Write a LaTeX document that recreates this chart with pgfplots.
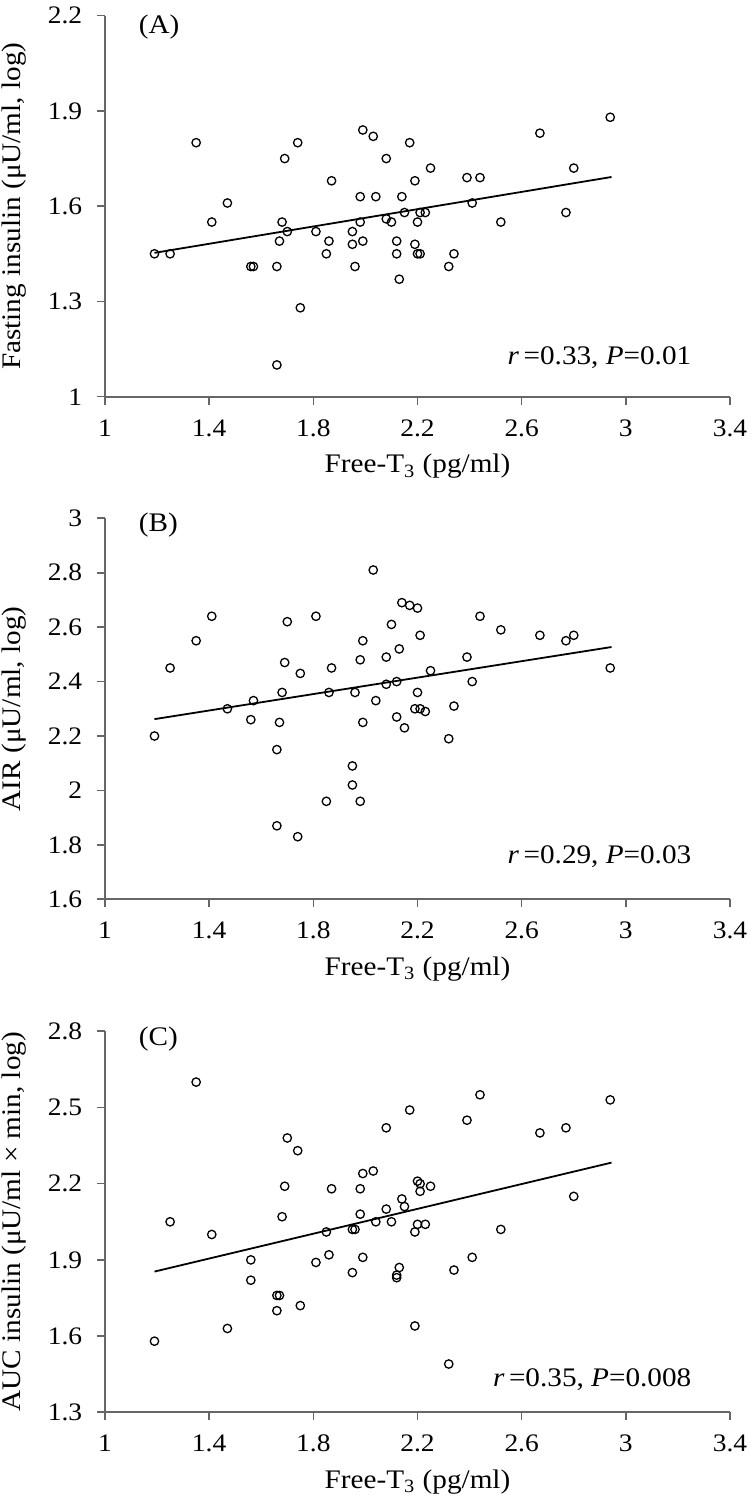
\documentclass[border=0pt]{standalone}
\usepackage{fontspec}
\setmainfont[FakeStretch=1.09]{Liberation Serif}
\usepackage{pgfplots}
\pgfplotsset{compat=1.18}
\pgfplotstableread{
x y
1.19 1.45
1.25 1.45
1.35 1.80
1.41 1.55
1.47 1.61
1.56 1.41
1.57 1.41
1.66 1.41
1.66 1.10
1.67 1.49
1.68 1.55
1.69 1.75
1.70 1.52
1.74 1.80
1.75 1.28
1.81 1.52
1.85 1.45
1.86 1.49
1.87 1.68
1.95 1.52
1.95 1.48
1.96 1.41
1.98 1.63
1.98 1.55
1.99 1.84
1.99 1.49
2.03 1.82
2.04 1.63
2.08 1.75
2.08 1.56
2.10 1.55
2.12 1.49
2.12 1.45
2.13 1.37
2.14 1.63
2.15 1.58
2.17 1.80
2.19 1.68
2.19 1.48
2.20 1.55
2.20 1.45
2.21 1.58
2.21 1.45
2.23 1.58
2.25 1.72
2.32 1.41
2.34 1.45
2.39 1.69
2.41 1.61
2.44 1.69
2.52 1.55
2.67 1.83
2.77 1.58
2.80 1.72
2.94 1.88
}\dataA
\pgfplotstableread{
x y
1.19 2.20
1.25 2.45
1.35 2.55
1.41 2.64
1.47 2.30
1.56 2.26
1.57 2.33
1.66 2.15
1.66 1.87
1.67 2.25
1.68 2.36
1.69 2.47
1.70 2.62
1.74 1.83
1.75 2.43
1.81 2.64
1.85 1.96
1.86 2.36
1.87 2.45
1.95 2.09
1.95 2.02
1.96 2.36
1.98 2.48
1.98 1.96
1.99 2.55
1.99 2.25
2.03 2.81
2.04 2.33
2.08 2.49
2.08 2.39
2.10 2.61
2.12 2.40
2.12 2.27
2.13 2.52
2.14 2.69
2.15 2.23
2.17 2.68
2.19 2.30
2.20 2.67
2.20 2.36
2.21 2.57
2.21 2.30
2.23 2.29
2.25 2.44
2.32 2.19
2.34 2.31
2.39 2.49
2.41 2.40
2.44 2.64
2.52 2.59
2.67 2.57
2.77 2.55
2.80 2.57
2.94 2.45
}\dataB
\pgfplotstableread{
x y
1.19 1.58
1.25 2.05
1.35 2.60
1.41 2.00
1.47 1.63
1.56 1.90
1.56 1.82
1.66 1.76
1.67 1.76
1.66 1.70
1.68 2.07
1.69 2.19
1.70 2.38
1.74 2.33
1.75 1.72
1.81 1.89
1.85 2.01
1.86 1.92
1.87 2.18
1.95 2.02
1.95 1.85
1.96 2.02
1.98 2.18
1.98 2.08
1.99 2.24
1.99 1.91
2.03 2.25
2.04 2.05
2.08 2.42
2.08 2.10
2.10 2.05
2.12 1.84
2.12 1.83
2.13 1.87
2.14 2.14
2.15 2.11
2.17 2.49
2.19 2.01
2.19 1.64
2.20 2.21
2.20 2.04
2.21 2.17
2.21 2.20
2.23 2.04
2.25 2.19
2.32 1.49
2.34 1.86
2.39 2.45
2.41 1.91
2.44 2.55
2.52 2.02
2.67 2.40
2.77 2.42
2.80 2.15
2.94 2.53
}\dataC
\newcommand{\tfont}{\fontsize{12.6}{15}\selectfont}
\newcommand{\afont}{\fontsize{13.4}{16}\selectfont}
\newcommand{\yfont}{\fontsize{13.4}{16}\selectfont}
\pgfplotsset{
  panel/.style={
    scale only axis, width=312.5pt, height=190.5pt,
    anchor=south west,
    axis lines=left,
    axis line style={-, black!60, line width=0.9pt},
    tick align=outside,
    major tick length=4pt,
    tick style={black!60, line width=0.8pt},
    xmin=1, xmax=3.4,
    xtick={1,1.4,1.8,2.2,2.6,3,3.4},
    xticklabels={1,1.4,1.8,2.2,2.6,3,3.4},
    /pgf/number format/assume math mode=true,
    tick label style={font=\tfont},
    xticklabel style={yshift=-3pt},
    yticklabel style={xshift=-3pt},
    xlabel={Free-T\textsubscript{3} (pg/ml)},
    xlabel style={font=\afont, at={(axis description cs:0.5,-0.2)}, anchor=base},
    ylabel style={font=\yfont, at={(axis description cs:-0.145,0.5)}, anchor=center},
    clip=false,
  },
  pts/.style={only marks, mark=o, mark size=2.1pt, mark options={black, line width=0.65pt}},
  reg/.style={black, line width=0.9pt, no marks},
}
\begin{document}
\tfont
\begin{tikzpicture}[x=1pt,y=1pt]
\path[use as bounding box] (0pt,0pt) rectangle (375pt,754.5pt);
% Panel A
\begin{axis}[panel, at={(52.5pt,556.15pt)},
  ymin=1, ymax=2.2, ytick={1,1.3,1.6,1.9,2.2}, yticklabels={1,1.3,1.6,1.9,2.2},
  ylabel={Fasting insulin (μU/ml, log)}]
\addplot[pts] table[x=x,y=y]{\dataA};
\addplot[reg] coordinates {(1.19,1.453) (2.945,1.692)};
\node[anchor=base west, font=\afont] at (axis cs:1.096,2.145) {(A)};
\node[anchor=base east, font=\afont] at (axis cs:3.285,1.10) {\textit{r}\,=0.33, \textit{P}=0.01};
\end{axis}
% Panel B
\begin{axis}[panel, at={(52.5pt,304.85pt)},
  ymin=1.6, ymax=3, ytick={1.6,1.8,2,2.2,2.4,2.6,2.8,3}, yticklabels={1.6,1.8,2,2.2,2.4,2.6,2.8,3},
  ylabel={AIR (μU/ml, log)}]
\addplot[pts] table[x=x,y=y]{\dataB};
\addplot[reg] coordinates {(1.19,2.262) (2.945,2.527)};
\node[anchor=base west, font=\afont] at (axis cs:1.096,2.953) {(B)};
\node[anchor=base east, font=\afont] at (axis cs:3.285,1.733) {\textit{r}\,=0.29, \textit{P}=0.03};
\end{axis}
% Panel C
\begin{axis}[panel, at={(52.5pt,48.35pt)},
  ymin=1.3, ymax=2.8, ytick={1.3,1.6,1.9,2.2,2.5,2.8}, yticklabels={1.3,1.6,1.9,2.2,2.5,2.8},
  ylabel={AUC insulin (μU/ml × min, log)}]
\addplot[pts] table[x=x,y=y]{\dataC};
\addplot[reg] coordinates {(1.19,1.854) (2.945,2.283)};
\node[anchor=base west, font=\afont] at (axis cs:1.096,2.745) {(C)};
\node[anchor=base east, font=\afont] at (axis cs:3.285,1.403) {\textit{r}\,=0.35, \textit{P}=0.008};
\end{axis}
\end{tikzpicture}
\end{document}
